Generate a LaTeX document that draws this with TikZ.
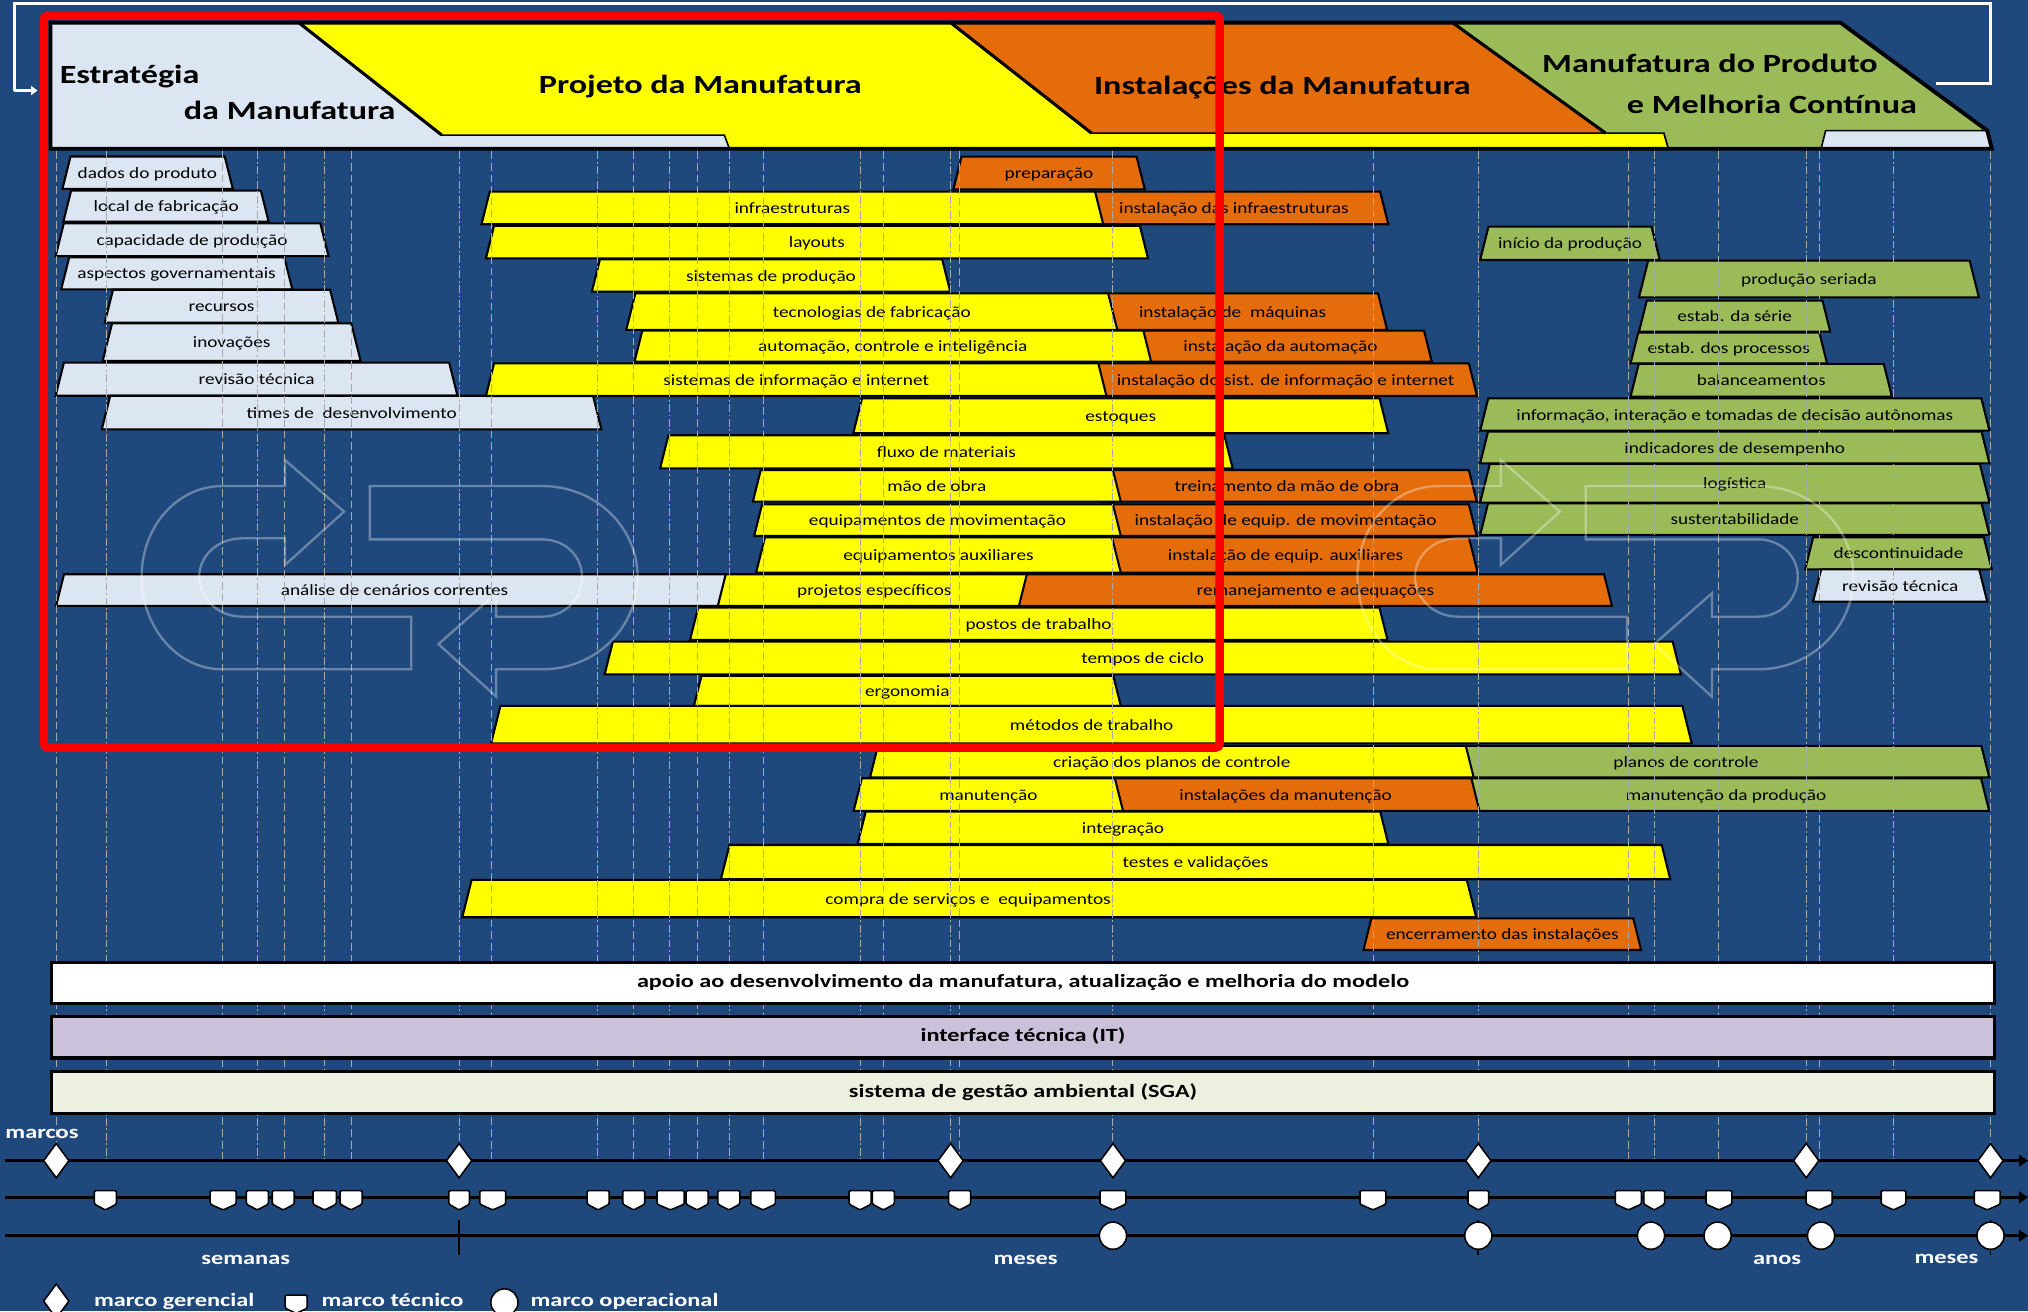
\documentclass[tikz,border=0pt]{standalone}
\usepackage{fontspec}
\setmainfont{Carlito}
\newfontfamily\rowfont{Carlito}[FakeStretch=1.22]
\newfontfamily\hdfont{Carlito}[FakeStretch=1.3]
\usetikzlibrary{arrows.meta,shapes.geometric}
\definecolor{bgblue}{HTML}{1F497D}
\definecolor{lb}{HTML}{DCE6F2}
\definecolor{yl}{HTML}{FFFF00}
\definecolor{og}{HTML}{E46C0A}
\definecolor{gr}{HTML}{9BBB59}
\definecolor{lav}{HTML}{CCC1DA}
\definecolor{sga}{HTML}{EBF1DE}
\definecolor{dl}{HTML}{A8A8A8}
\newcommand{\tbx}[8]{%
  \pgfmathsetmacro{\mysl}{0.25*(#6-#5)}%
  \path[boxline, fill=#2] (#3,#6) -- ({#3+\mysl},#5) -- ({#4-\mysl},#5) -- (#4,#6) -- cycle;
  \node[lbl] (#1) at (#7,{(#5+#6)/2+4.3}) {#8};
}
\newcommand{\logopaths}{%
 \draw (318,476.8) -- (318,517.5) -- (172,517.5) .. controls (137,517.5) and (109.5,485) .. (109.5,446) .. controls (109.5,407) and (137,375.8) .. (172,375.8) -- (220.4,375.8) -- (220.4,355.7) -- (266,395.6) -- (220.4,436.8) -- (220.4,416.2) -- (187.4,416.2) .. controls (168,416.2) and (154,430) .. (154,446) .. controls (154,462) and (168,476.8) .. (187.4,476.8) -- cycle;
 \draw (286,417) -- (286,375.8) -- (419,375.8) .. controls (461,375.8) and (493,408) .. (493,446) .. controls (493,485) and (461,517.5) .. (419,517.5) -- (383.6,517.5) -- (383.6,538.6) -- (339,498) -- (383.6,458.7) -- (383.6,476.8) -- (419,476.8) .. controls (437,476.8) and (450,463) .. (450,446) .. controls (450,430) and (437,417) .. (419,417) -- cycle;
}
\begin{document}
\begin{tikzpicture}[x=1pt,y=-1pt,
  boxline/.style={draw=black, line width=1.6pt, line join=miter},
  lbl/.style={anchor=base, inner sep=0pt, text=black, font=\rowfont\fontsize{12.2}{14}\selectfont},
  hd/.style={inner sep=0pt, text=black, font=\hdfont\bfseries\fontsize{20.3}{24}\selectfont},
  barst/.style={draw=black, line width=2.4pt, minimum width=1502pt, inner sep=0pt, text height=9pt, text depth=2pt, font=\hdfont\bfseries\fontsize{14.4}{17}\selectfont},
  wtxt/.style={inner sep=0pt, text=white, font=\hdfont\bfseries\fontsize{14.5}{17}\selectfont},
  ltxt/.style={inner sep=0pt, anchor=base west, text=white, font=\hdfont\bfseries\fontsize{14.5}{17}\selectfont},
  vlineA/.style={draw=dl, line width=0.8pt, dash pattern=on 6pt off 3pt},
  vlineB/.style={draw=dl, line width=0.8pt, dash pattern=on 6pt off 2pt on 1.5pt off 2pt},
  tline/.style={draw=black, line width=2pt, -{Triangle[length=7pt,width=9pt]}},
  dia/.style={diamond, draw=black, fill=white, line width=1.2pt, minimum width=20pt, minimum height=27pt, inner sep=0pt},
  shieldst/.style={draw=black, fill=white, line width=1.2pt, rounded corners=1pt},
  opc/.style={circle, draw=black, fill=white, line width=1.2pt, minimum size=21pt, inner sep=0pt}
]
\useasboundingbox (0,0) rectangle (1568,1014);
\fill[bgblue] (0,0) rectangle (1568,1014);

% white bracket
\draw[white, line width=2pt] (1496.5,64.4) -- (1539,64.4) -- (1539,2.5) -- (11,2.5) -- (11,70);
\coordinate (brk) at (11,70);
\coordinate (brkend) at (29,70);
\draw[white, line width=2pt, -{Triangle[length=5pt,width=7pt]}] (brk) -- (brkend);

% header
\path[fill=lb, draw=black, line width=1.2pt] (39,17.5) -- (1423,17.5) -- (1536.5,101) -- (1540,115) -- (39,115) -- cycle;
\path[fill=yl, draw=black, line width=1.2pt] (231,17.5) -- (1123,17.5) -- (1241.5,103) -- (1286.5,103) -- (1290,115) -- (564,115) -- (560,104.4) -- (341.5,104.4) -- cycle;
\path[fill=og, draw=black, line width=1.2pt] (735,17.5) -- (1123,17.5) -- (1241.5,103) -- (844,103) -- cycle;
\path[fill=gr, draw=black, line width=1.2pt] (1123,17.5) -- (1423,17.5) -- (1536.5,101) -- (1411.5,101) -- (1408,115) -- (1290,115) -- (1286.5,103) -- (1241.5,103) -- cycle;
\draw[line width=2.4pt] (231,17.5) -- (341.5,104.4);
\draw[line width=2.4pt] (735,17.5) -- (844,103);
\draw[line width=2.4pt] (1123,17.5) -- (1241.5,103);
\draw[line width=3pt, line join=miter] (39,17.5) -- (1423,17.5) -- (1536.5,101) -- (1540,115) -- (39,115) -- cycle;
\node[hd, anchor=base west] (h1a) at (46,64.5) {Estratégia};
\node[hd, anchor=base west] (h1b) at (142,92.5) {da Manufatura};
\node[hd, anchor=base] (h2) at (541.5,72) {Projeto da Manufatura};
\node[hd, anchor=base] (h3) at (991.5,73) {Instalações da Manufatura};
\node[hd, anchor=base] (h4a) at (1322,56) {Manufatura do Produto};
\node[hd, anchor=base] (h4b) at (1370,87.5) {e Melhoria Contínua};

% left column
\tbx{a1}{lb}{48.3}{180}{121}{146}{114}{dados do produto}
\tbx{a2}{lb}{49}{207.7}{147.4}{171.4}{128.5}{local de fabricação}
\tbx{a3}{lb}{43}{254}{172.7}{198}{148.5}{capacidade de produção}
\tbx{a4}{lb}{47.3}{226}{199}{223.7}{136.5}{aspectos governamentais}
\tbx{a5}{lb}{81}{261.6}{224}{249.5}{171.3}{recursos}
\tbx{a6}{lb}{79.4}{278.8}{250}{279}{179.1}{inovações}
\tbx{a7}{lb}{43}{353.7}{280.4}{306}{198.4}{revisão técnica}
\tbx{a8}{lb}{78.7}{465}{306}{332}{271.9}{times de\ \ desenvolvimento}

% middle rows
\tbx{p1}{og}{737.1}{885.1}{121.1}{146.4}{811}{preparação}
\tbx{o2}{og}{838}{1073.4}{148.2}{173.4}{954}{instalação das infraestruturas}
\tbx{y2}{yl}{372.3}{853}{148.2}{173.4}{612.6}{infraestruturas}
\tbx{y3}{yl}{375.7}{887.6}{174.7}{199.7}{631.6}{layouts}
\tbx{y4}{yl}{457.6}{734.7}{200.5}{225.5}{596.1}{sistemas de produção}
\tbx{o5}{og}{847}{1072.5}{226.8}{255.1}{953}{instalação de\ \ máquinas}
\tbx{y5}{yl}{484.2}{863.9}{226.8}{255.1}{674}{tecnologias de fabricação}
\tbx{o6}{og}{876}{1107}{255.6}{279.6}{990}{instalação da automação}
\tbx{y6}{yl}{490.6}{890}{255.6}{279.6}{690.3}{automação, controle e inteligência}
\tbx{o7}{og}{840}{1142}{280.9}{306.2}{994}{instalação do sist. de informação e internet}
\tbx{y7}{yl}{375.7}{855.5}{280.9}{306.2}{615.6}{sistemas de informação e internet}
\tbx{y8}{yl}{659.7}{1073.4}{308}{335}{866.5}{estoques}
\tbx{y9}{yl}{510.4}{953}{336.5}{362.1}{731.7}{fluxo de materiais}
\tbx{o10}{og}{852}{1141.8}{363.4}{387.9}{995}{treinamento da mão de obra}
\tbx{y10}{yl}{582.1}{866.6}{363.4}{387.9}{724.3}{mão de obra}
\tbx{o11}{og}{852}{1141.8}{389.9}{414.4}{994}{instalação de equip. de movimentação}
\tbx{y11}{yl}{583.1}{866.6}{389.9}{414.4}{724.8}{equipamentos de movimentação}
\tbx{o12}{og}{850}{1142.5}{415.4}{442.8}{994}{instalação de equip. auxiliares}
\tbx{y12}{yl}{584.6}{866.6}{415.4}{442.8}{725.6}{equipamentos auxiliares}
\tbx{a9}{lb}{43.4}{570}{444}{468.5}{305}{análise de cenários correntes}
\tbx{y13}{yl}{555}{805}{444}{468.5}{676}{projetos específicos}
\tbx{o13}{og}{787.8}{1246.3}{444}{468.5}{1017}{remanejamento e adequações}
\tbx{y14}{yl}{533.5}{1072.8}{469.8}{494.8}{803}{postos de trabalho}
\tbx{y15}{yl}{467.5}{1299.6}{496.1}{521.4}{883.5}{tempos de ciclo}
\tbx{y16}{yl}{536.5}{866.6}{522.6}{545.8}{701.5}{ergonomia}
\tbx{y17}{yl}{379.7}{1308}{545.8}{574.7}{844}{métodos de trabalho}
\tbx{g18}{gr}{1069}{1538}{576.7}{601}{1303.5}{planos de controle}
\tbx{y18}{yl}{672.7}{1139.4}{576.7}{601}{906}{criação dos planos de controle}
\tbx{g19}{gr}{1129}{1538}{601.7}{627}{1334.5}{manutenção da produção}
\tbx{o19}{og}{853}{1143.9}{601.7}{627}{994}{instalações da manutenção}
\tbx{y19}{yl}{660}{868.3}{601.7}{627}{764.2}{manutenção}
\tbx{y20}{yl}{663.1}{1073.4}{627.5}{652.5}{868.3}{integração}
\tbx{y21}{yl}{557.4}{1291.4}{653.3}{679.8}{924.4}{testes e validações}
\tbx{y22}{yl}{357.4}{1141.3}{680.3}{709.2}{748.5}{compra de serviços e\ \ equipamentos}
\tbx{o23}{og}{1054.2}{1268.9}{710}{734.5}{1161.6}{encerramento das instalações}

% right column
\tbx{g1}{gr}{1144.4}{1283.3}{175.2}{201}{1213.9}{início da produção}
\tbx{g2}{gr}{1267.2}{1530}{201.5}{229.9}{1398.6}{produção seriada}
\tbx{g3}{gr}{1267.2}{1415.1}{232.5}{256.4}{1341.2}{estab. da série}
\tbx{g4}{gr}{1260.7}{1412.6}{257.2}{280.9}{1336.6}{estab. dos processos}
\tbx{g5}{gr}{1260.7}{1462.8}{281.4}{306.7}{1361.8}{balanceamentos}
\tbx{g6}{gr}{1144.4}{1538.2}{308}{333}{1341.3}{informação, interação e tomadas de decisão autônomas}
\tbx{g7}{gr}{1144.4}{1538.2}{333.7}{358.2}{1341.3}{indicadores de desempenho}
\tbx{g8}{gr}{1144.4}{1538.2}{358.7}{388.6}{1341.3}{logística}
\tbx{g9}{gr}{1144.4}{1538.2}{389.1}{413.6}{1341.3}{sustentabilidade}
\tbx{g10}{gr}{1395.7}{1540}{415.4}{440.2}{1467.9}{descontinuidade}
\tbx{a10}{lb}{1401.8}{1536.5}{440.2}{465.2}{1469.2}{revisão técnica}

% dashed milestone lines
\foreach \x in {43.5,172,220,272,380,490,539,590,683,742,1062,1259,1329,1407,1539}
  \draw[vlineA] (\x,117) -- (\x,897);
\foreach \x in {82,199,251,355,462,518,564,665,735,860.5,1143,1279,1396.5,1464}
  \draw[vlineB] (\x,117) -- (\x,897);

% watermark logos
\begin{scope}[draw=white, draw opacity=0.33, line width=1.8pt]
  \logopaths
  \begin{scope}[shift={(940,0)}]
    \logopaths
  \end{scope}
\end{scope}

% bottom bars
\node[barst, fill=white, minimum height=31.4pt] (apoio) at (791,760) {apoio ao desenvolvimento da manufatura, atualização e melhoria do modelo};
\node[barst, fill=lav, minimum height=32pt] (it) at (791,802) {interface técnica (IT)};
\node[barst, fill=sga, minimum height=32.2pt] (sga) at (791,844.7) {sistema de gestão ambiental (SGA)};

% timeline
\draw[tline] (4,897.4) -- (1568,897.4);
\draw[tline] (4,925.7) -- (1568,925.7);
\draw[tline] (4,955.4) -- (1568,955.4);
\foreach \x in {355,1143,1539}
  \draw[black, line width=1.5pt] (\x,943) -- (\x,970);
\foreach[count=\i] \x in {43.5,355,735,860.5,1143,1396.5,1539}
  \node[dia] (dm\i) at (\x,897.4) {};
\foreach \x/\w in {81.5/17,172.5/20,199/17,219/17,251/18,271.5/17,355/16,381/20,462.5/17,490/17,518.5/21,539/17,563.5/17,590/19,665/17,683/17,742/17,860.5/20,1061.5/20,1143/16,1259/20,1279/16,1329/20,1406.5/20,1464/19,1536.5/20}
  \path[shieldst] ({\x-\w/2},920.5) -- ({\x+\w/2},920.5) -- ({\x+\w/2},931) -- (\x,935.5) -- ({\x-\w/2},931) -- cycle;
\foreach[count=\i] \x in {860.5,1143,1276.5,1328,1408,1539}
  \node[opc] (om\i) at (\x,955.4) {};
\node[wtxt, anchor=base west] (marcos) at (4,880) {marcos};
\node[wtxt, anchor=base] (semanas) at (190,978) {semanas};
\node[wtxt, anchor=base] (meses1) at (793,978) {meses};
\node[wtxt, anchor=base] (anos) at (1374,978) {anos};
\node[wtxt, anchor=base] (meses2) at (1505,977) {meses};

% legend
\node[dia] (lg1) at (43.5,1006) {};
\node[ltxt] (lt1) at (72.5,1010) {marco gerencial};
\path[shieldst] (220.5,1001.3) -- (237.5,1001.3) -- (237.5,1011.5) -- (229,1015.5) -- (220.5,1011.5) -- cycle;
\node[ltxt] (lt2) at (248.5,1010) {marco técnico};
\node[opc] (lg3) at (390,1007) {};
\node[ltxt] (lt3) at (410,1010) {marco operacional};

% red frame
\draw[red, line width=6.5pt, rounded corners=3pt] (34,12) rectangle (943,578);
\end{tikzpicture}
\end{document}
